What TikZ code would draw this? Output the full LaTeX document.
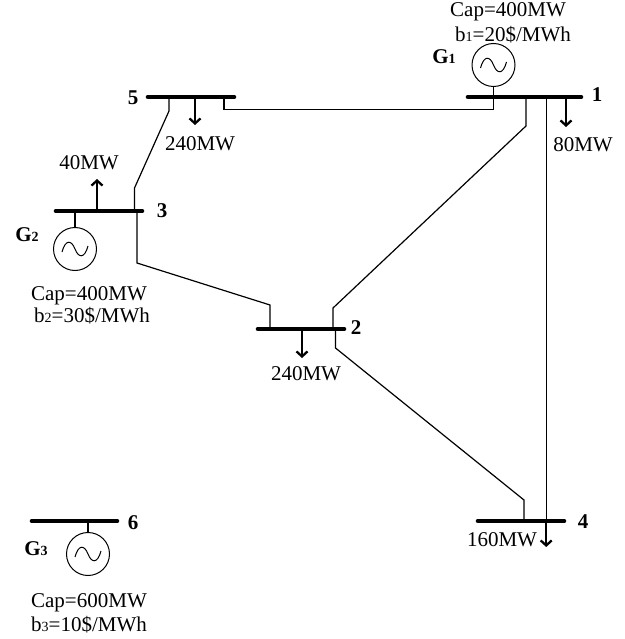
\documentclass[tikz,border=0pt]{standalone}
\usepackage{fontspec}
\setmainfont{Liberation Serif}
\usetikzlibrary{arrows.meta}
\newcommand{\subd}[1]{{\fontsize{14}{14}\selectfont #1}}
\tikzset{
  x=1pt,y=-1pt,
  busbar/.style={line width=4.6pt,line cap=round,black},
  branch/.style={line width=1.2pt,black,line join=miter},
  load/.style={line width=2.3pt,-{Straight Barb[length=5pt,width=11pt,line width=2.3pt]}},
  gen/.style={circle,draw,line width=1pt,minimum size=43pt,inner sep=0pt,outer sep=0pt},
  txt/.style={font=\fontsize{21}{21}\selectfont,inner sep=0pt,anchor=base},
  busno/.style={font=\fontsize{21}{21}\selectfont\bfseries,inner sep=0pt,anchor=base},
  wave/.pic={\draw[line width=1pt] (-13,3) .. controls (-9.5,-10) and (-3.5,-9) .. (0,0) .. controls (3.5,9) and (9.5,10) .. (13,-3);}
}
\begin{document}
\begin{tikzpicture}
\useasboundingbox (0,0) rectangle (624,639);
% bus ends and taps
\coordinate (b1l) at (468,97);   \coordinate (b1r) at (581,97);
\coordinate (b2l) at (258,329);  \coordinate (b2r) at (344,329);
\coordinate (b3l) at (56,211);   \coordinate (b3r) at (142,211);
\coordinate (b4l) at (478,521);  \coordinate (b4r) at (564,521);
\coordinate (b5l) at (148,97);   \coordinate (b5r) at (234,97);
\coordinate (b6l) at (32,521);   \coordinate (b6r) at (117,521);
\coordinate (t15a) at (493.5,97); \coordinate (t15b) at (224,97);
\coordinate (t12a) at (526,97);   \coordinate (t12b) at (333,329);
\coordinate (t14a) at (546.2,97); \coordinate (t14b) at (546.2,521);
\coordinate (t24a) at (335.5,329);\coordinate (t24b) at (524,521);
\coordinate (t23a) at (270,329);  \coordinate (t23b) at (137,211);
\coordinate (t35a) at (134.5,211);\coordinate (t35b) at (169,97);
\coordinate (l1a) at (566,97);  \coordinate (l1b) at (566,127);
\coordinate (l2a) at (302,329); \coordinate (l2b) at (302,358);
\coordinate (l3a) at (97,211);  \coordinate (l3b) at (97,179);
\coordinate (l4a) at (546.2,521); \coordinate (l4b) at (546.2,547);
\coordinate (l5a) at (195,97);  \coordinate (l5b) at (195,125);
% generators
\node[gen] (g1) at (493.5,65) {};
\node[gen] (g2) at (75,249) {};
\node[gen] (g3) at (88,554) {};
\pic at (g1) {wave};
\pic at (g2) {wave};
\pic at (g3) {wave};
\coordinate (g1t) at (493.5,97);
\coordinate (g2t) at (75,211);
\coordinate (g3t) at (88,521);
\draw[branch] (g1) -- (g1t);
\draw[branch] (g2) -- (g2t);
\draw[branch] (g3) -- (g3t);
% branches
\draw[branch] (t15a) -- (493.5,109.5) -- (224,109.5) -- (t15b);
\draw[branch] (t12a) -- (526,126) -- (333,308) -- (t12b);
\draw[branch] (t14a) -- (t14b);
\draw[branch] (t24a) -- (335.5,348) -- (524,500) -- (t24b);
\draw[branch] (t23a) -- (270,305) -- (137,263) -- (t23b);
\draw[branch] (t35a) -- (134.5,188) -- (169,111) -- (t35b);
% loads
\draw[load] (l1a) -- (l1b);
\draw[load] (l2a) -- (l2b);
\draw[load] (l3a) -- (l3b);
\draw[load] (l4a) -- (l4b);
\draw[load] (l5a) -- (l5b);
% buses
\draw[busbar] (b1l) -- (b1r);
\draw[busbar] (b2l) -- (b2r);
\draw[busbar] (b3l) -- (b3r);
\draw[busbar] (b4l) -- (b4r);
\draw[busbar] (b5l) -- (b5r);
\draw[busbar] (b6l) -- (b6r);
% bus numbers
\node[busno] (n1) at (597,101.7) {1};
\node[busno] (n2) at (356,334) {2};
\node[busno] (n3) at (162,217.5) {3};
\node[busno] (n4) at (583,528.5) {4};
\node[busno] (n5) at (133,104.3) {5};
\node[busno] (n6) at (133,529) {6};
% generator labels
\node[busno] (gl1) at (444,63.3) {G\subd{1}};
\node[busno] (gl2) at (27,241.7) {G\subd{2}};
\node[busno] (gl3) at (36,555.7) {G\subd{3}};
% text
\node[txt] (c1) at (508,16.7) {Cap=400MW};
\node[txt] (p1) at (513,41.7) {b\subd{1}=20\$/MWh};
\node[txt] (c2) at (89,300.7) {Cap=400MW};
\node[txt] (p2) at (92,322.7) {b\subd{2}=30\$/MWh};
\node[txt] (c3) at (89,607) {Cap=600MW};
\node[txt] (p3) at (89,631.7) {b\subd{3}=10\$/MWh};
\node[txt] (w1) at (583,151.7) {80MW};
\node[txt] (w2) at (306,380.7) {240MW};
\node[txt] (w3) at (89,169.3) {40MW};
\node[txt] (w4) at (502,546.7) {160MW};
\node[txt] (w5) at (200,150.7) {240MW};
\end{tikzpicture}
\end{document}
